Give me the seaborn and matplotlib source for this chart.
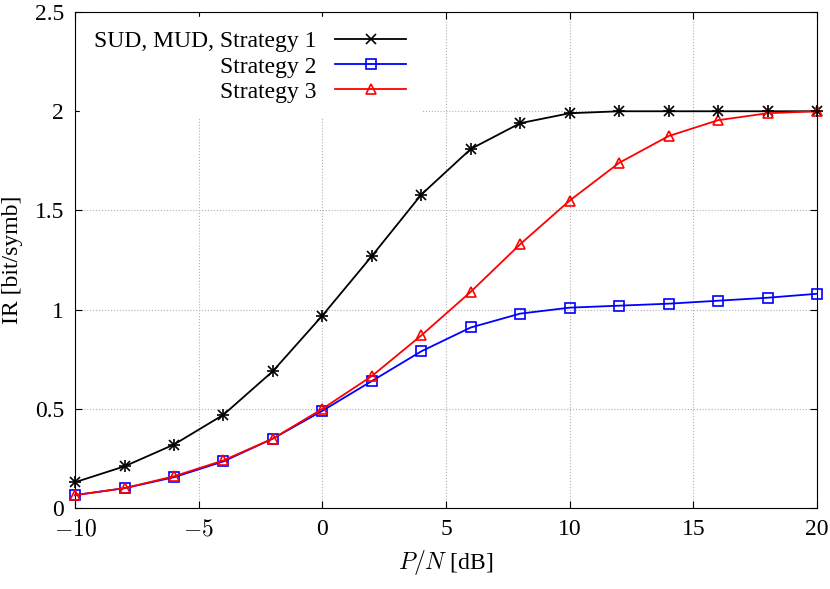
import matplotlib
matplotlib.use("Agg")
import matplotlib.pyplot as plt
import seaborn as sns
import pandas as pd

x = [-10, -8, -6, -4, -2, 0, 2, 4, 6, 8, 10, 12, 14, 16, 18, 20]
s1 = [0.13, 0.21, 0.32, 0.47, 0.69, 0.97, 1.27, 1.58, 1.81, 1.94, 1.99, 2.0, 2.0, 2.0, 2.0, 2.0]
s2 = [0.065, 0.10, 0.155, 0.235, 0.35, 0.49, 0.64, 0.79, 0.91, 0.98, 1.01, 1.02, 1.03, 1.045, 1.06, 1.08]
s3 = [0.065, 0.10, 0.16, 0.24, 0.35, 0.50, 0.665, 0.87, 1.09, 1.33, 1.55, 1.74, 1.875, 1.955, 1.99, 2.0]
labels = ["SUD, MUD, Strategy 1", "Strategy 2", "Strategy 3"]

plt.rcParams["font.family"] = "Liberation Serif"
plt.rcParams["mathtext.fontset"] = "cm"
plt.rcParams["font.size"] = 17

fig = plt.figure(figsize=(8.30, 5.89), dpi=100)
ax = fig.add_axes([0.0904, 0.1375, 0.894, 0.842])

styles = [("black", "x"), ("blue", "s"), ("red", "^")]
for ys, lab, (c, m) in zip([s1, s2, s3], labels, styles):
    df = pd.DataFrame({"x": x, "y": ys})
    sns.lineplot(data=df, x="x", y="y", ax=ax, color=c, marker=m, label=lab,
                 markersize=7, markerfacecolor="none", markeredgecolor=c,
                 markeredgewidth=1.2, linewidth=1.3, clip_on=False, zorder=3)
ax.plot(x, s1, linestyle="none", marker="+", color="black", markersize=9,
        markeredgewidth=1.2, clip_on=False, zorder=3)

ax.set_xlim(-10, 20)
ax.set_ylim(0, 2.5)
ax.set_xticks([-10, -5, 0, 5, 10, 15, 20])
ax.set_xticklabels(["$-10$", "$-5$", "0", "5", "10", "15", "20"])
ax.set_yticks([0, 0.5, 1, 1.5, 2, 2.5])
ax.set_yticklabels(["0", "0.5", "1", "1.5", "2", "2.5"])
ax.grid(True, color="#b0b0b0", linestyle=":", linewidth=0.8)
ax.tick_params(direction="in", top=True, right=True, length=5, pad=8)
ax.set_xlabel("$P/N$ [dB]", labelpad=6)
ax.set_ylabel("IR [bit/symb]", labelpad=8)
for sp in ax.spines.values():
    sp.set_color("black")

leg = ax.legend(loc="upper left", bbox_to_anchor=(0.0, 1.0), markerfirst=False,
                frameon=True, fancybox=False, edgecolor="white", framealpha=1,
                handlelength=3, borderpad=0.6, labelspacing=0.15, borderaxespad=0.2)
for t in leg.get_texts():
    t.set_ha("right")
leg.set_zorder(2)
fig.savefig("out.png", dpi=100)
